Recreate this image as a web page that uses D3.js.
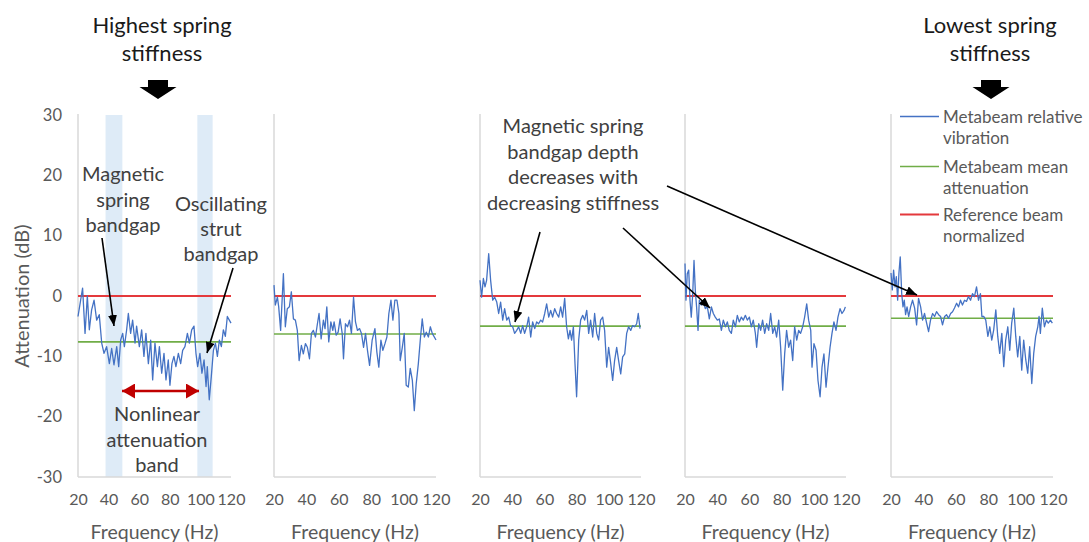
<!DOCTYPE html>
<html><head><meta charset="utf-8">
<script src="https://cdn.jsdelivr.net/npm/d3@7"></script>
<style>body{margin:0;background:#fff}svg{display:block;font-family:Lato,"Open Sans",sans-serif}</style>
</head><body><svg id="c" width="1089" height="542"></svg>
<script>
// ---------- data ----------
const freqTicks = [20, 40, 60, 80, 100, 120];
const attTicks = [30, 20, 10, 0, -10, -20, -30];
const meanAtt = [-7.6, -6.3, -5.0, -5.0, -3.7];
const refLevel = 0;
const bandgaps = [[38, 49], [98, 108]];
const legendLabels = [["Metabeam relative", "vibration"], ["Metabeam mean", "attenuation"], ["Reference beam", "normalized"]];

const f1 = [20,23,24.6,26.1,27.4,28.9,30.5,32.2,33.9,35.5,37,38.7,40.5,42,43.5,45.3,46.6,47.9,49.2,50.3,51.8,52.9,54.4,55.7,57.3,58.3,60.1,61.6,63.1,64.4,66,67.5,68.8,70.3,71.9,73.2,74.7,76.2,77.5,79,80.1,81.4,82.7,84,85.6,87.1,88.4,89.9,91.5,92.8,94.3,95.8,97.1,98.2,99.7,101,102.4,103.7,104.5,105.8,107.1,108.5,109.8,111.1,112.4,113.7,115,116.3,117.6,118.9,120];
const a1 = [-3.4,1.3,-6.2,0,-5.6,-2.3,-0.7,-4,-3.1,-7.8,-9.5,-8.4,-11.2,-8.7,-11.4,-8.4,-11.7,-7.3,-6.2,-8.4,-5.6,-2.9,-6.2,-4,-7.8,-5,-8.4,-5.6,-10,-6.2,-11.2,-7.3,-13.9,-7.8,-11.7,-8.4,-12.8,-9.5,-13.9,-10.6,-14.8,-11.2,-10,-11.7,-9.5,-11.2,-9,-8.4,-6.2,-7.8,-5.6,-5,-9.5,-11.7,-9.5,-12.8,-10.6,-15,-11.7,-17.2,-13.4,-9,-7.8,-10,-7.3,-8.4,-5.6,-6.7,-3.4,-4,-4.5];

const f2 = [20,20.8,22.1,22.9,24.1,25.8,27,28.2,29.5,30.7,32,33.2,34.4,35.5,36.9,38.1,39.4,40.6,41.9,43.1,44.3,45.6,46.8,47.8,49.1,50.5,51.5,52.6,53.8,55.1,56.3,57.1,58.4,59.6,60.8,62.1,62.9,64.1,65.4,66.6,67.8,69.1,70.3,71.5,72.8,74,75.3,76.5,77.7,79,80.6,82.3,83.5,84.7,86,87.2,88.5,89.7,90.9,92.2,93.4,94.6,95.9,97.1,97.9,99.2,100.4,101.6,102.9,104.1,105.4,106.6,107.8,109.1,110.3,111.5,112.8,114,115.3,116.5,117.7,120];
const a2 = [1.8,-1.5,-0.2,-1.8,-5.7,3.7,-5.1,-2.1,-1.8,0.7,-3.8,-4,-5.7,-10.7,-8.2,-9.6,-7.9,-8.5,-10.4,-6.2,-5.7,-6.8,-4.6,-2.9,-7.1,-4,-5.4,-1.8,-7.6,-4.3,-5.7,-4.3,-6.5,-6,-3.8,-6.2,-10.4,-4.6,-5.1,-4,-6.2,-0.2,-4.3,-5.7,-5.4,-6.2,-8.5,-6.2,-9,-11.5,-7.3,-5.4,-9.3,-11.8,-7.3,-9,-7.9,-6.8,-2.9,-0.7,-4,-0.7,-0.7,-2.9,-10.7,-8.5,-6.2,-14.8,-15.1,-12,-14,-19,-14.5,-11.2,-7.3,-3.8,-6.8,-6,-6.8,-5.1,-6.2,-7.3];

const f3 = [20,21,22.1,23.1,24.1,25.4,26.6,27.9,29.1,30.4,31.6,32.8,34.1,35.3,36.6,37.8,39,40.3,41.5,42.8,44,45.3,46.5,47.7,49,50.2,51.5,52.7,54,55.2,56.4,57.7,58.9,60.2,61.4,62.7,63.9,65.1,66.4,67.6,68.9,70.1,71.3,72.6,73.8,74.9,75.9,76.9,78,79,80,81.3,82.5,83.8,85,86.3,87.5,88.7,90,91.2,92.5,93.7,94.9,96.2,97.4,98.7,99.9,101.2,102.4,103.6,104.9,106.1,107.4,108.6,109.9,111.1,112.3,113.6,114.8,116.1,117.3,118.3,119.4];
const a3 = [2.6,-0.2,2.9,1.5,2.6,7,2.6,-0.7,-0.2,-1,-2.9,-1,-4,-2.1,-4,-3.5,-4.9,-5.1,-6.2,-5.7,-5.1,-6.2,-4.9,-6.2,-5.1,-3.5,-6.8,-4.3,-5.4,-4.3,-4.6,-4,-4.3,-2.9,-1.3,-3.5,-2.4,-3.5,-2.1,-2.9,-3.5,-1.8,-3.5,-0.4,-5.1,-7.1,-5.7,-7.3,-5.1,-11.2,-16.7,-7.3,-4,-3.2,-4,-2.4,-6.2,-4,-6.8,-2.9,-6.2,-7.3,-4,-3.5,-5.7,-11.8,-8.5,-11.2,-14,-10.7,-8.5,-10.7,-12.9,-10.1,-9.6,-6.2,-5.1,-5.7,-4.9,-5.1,-4.6,-2.9,-5.4];

const f4 = [20,20.6,21.4,22.3,23.1,23.9,24.8,25.6,26.4,27.2,28.1,28.9,30.1,31.4,32.6,33.9,35.1,36.4,37.6,38.8,40.1,41.3,42.6,43.8,45.1,46.3,47.5,48.8,50,51.3,52.5,53.7,55,56.2,57.5,58.7,60,61.2,62.4,63.7,64.5,65.8,67,68.2,69.5,70.7,72,73.2,74.5,75.7,76.9,78.2,79.4,80.7,81.9,83.1,84.4,85.6,86.9,88.1,89.4,90.6,91.8,93.1,94.3,95.6,96.8,98.1,98.9,100.1,101.4,102.6,103.9,105.1,106.3,107.6,108.8,110.1,111.3,112.5,113.8,115,116.3,117.5,118.8,119.6];
const a4 = [5.4,-0.7,3.7,4.3,-0.7,-3.5,0.4,5.9,0.9,-1.8,-5.7,-0.7,-1.5,-1,-2.1,-1.8,-3.8,-1.8,-2.9,-3.5,-4,-3.8,-5.7,-4,-5.1,-4.3,-5.7,-6.2,-4,-5.1,-3.2,-4.3,-3.5,-4,-3.2,-4,-3.5,-5.1,-4,-6.2,-8.5,-4.6,-5.7,-4,-6.2,-4.6,-5.7,-2.9,-6.2,-5.1,-6.8,-4,-8.5,-15.6,-9.6,-5.7,-8.5,-7.3,-10.7,-5.1,-7.3,-5.7,-6.2,-5.1,-3.5,-1.3,-4,-5.7,-11.8,-7.9,-9,-14,-16.7,-11.8,-9.6,-15.1,-11.8,-8.5,-6.2,-4.3,-5.7,-3.5,-2.1,-2.9,-2.4,-1.8];

const f5 = [20,20.8,21.6,22.5,23.3,24.1,24.9,25.7,26.6,27.4,28.2,29,29.9,30.9,32.1,33.3,34.6,35.8,37,38.3,39.5,40.7,42,43.2,44.4,45.7,46.9,48.1,49.4,50.6,51.8,53.1,54.3,55.5,56.8,58,59.2,60.5,61.7,62.9,64.1,65.4,66.6,67.8,69.1,70.3,71.5,72.8,74,75.2,76.1,77.3,78.5,79.8,81,82.2,83.4,84.7,85.9,87.1,88.4,89.6,90.8,92.1,93.3,94.5,95.8,97,98.2,99.5,100.7,101.9,103.2,104.4,105.6,106.9,108.1,109.3,110.6,111.4,112.2,113.4,114.7,115.9,117.1,118.4,119.6];
const a5 = [3.8,1,4.3,1.5,3.2,-0.7,3.8,6.5,0.4,-1.8,-0.7,-3.1,-1.8,-3.4,-1.8,-0.7,-2,-4.8,-0.4,-1.8,-4,-2.9,-4.5,-5.9,-4,-2.9,-3.4,-2.6,-3.1,-3.4,-4.8,-3.4,-3.1,-3.7,-2.9,-2.6,-2,-1.2,-1.8,-0.7,-1.5,-0.7,-0.9,-0.1,-0.7,0.4,-0.1,1.5,-0.7,0.4,-3.4,-3.4,-4,-6.7,-5.1,-7.3,-5.6,-2.3,-6.7,-9.5,-6.2,-11.7,-7.3,-5.1,-9,-4.5,-2,-6.7,-10.1,-6.7,-12.3,-7.3,-10.6,-12.8,-8.4,-14.5,-9.5,-6.7,-5.1,-3.4,-6.2,-2,-5.1,-4,-4.5,-4,-4.5];

const series = [[f1, a1], [f2, a2], [f3, a3], [f4, a4], [f5, a5]];

// ---------- layout ----------
const svg = d3.select("#c");
const W = 1089, H = 542;
svg.append("rect").attr("width", W).attr("height", H).attr("fill", "#fff");
const panelX = [[78, 231], [274, 436], [480, 641], [685, 846], [891, 1053]];
const yTop = 115, yBot = 477;
const y = d3.scaleLinear().domain([-30, 30]).range([yBot, yTop]);
const C = {blue: "#4472c4", green: "#70ad47", red: "#e4393c", axis: "#d9d9d9", tick: "#595959", text: "#404040", band: "#deebf7"};

const defs = svg.append("defs");
defs.append("marker").attr("id", "ah").attr("viewBox", "0 0 11 9").attr("refX", 11).attr("refY", 4.5)
  .attr("markerWidth", 11).attr("markerHeight", 9).attr("markerUnits", "userSpaceOnUse").attr("orient", "auto")
  .append("path").attr("d", "M0,0 L11,4.5 L0,9 Z").attr("fill", "#000");
defs.append("marker").attr("id", "rh").attr("viewBox", "0 0 13 15").attr("refX", 13).attr("refY", 7.5)
  .attr("markerWidth", 13).attr("markerHeight", 15).attr("markerUnits", "userSpaceOnUse").attr("orient", "auto-start-reverse")
  .append("path").attr("d", "M0,0 L13,7.5 L0,15 Z").attr("fill", "#c00000");

const plainNum = d => String(d);

series.forEach(([fr, at], i) => {
  const x = d3.scaleLinear().domain([20, 120]).range(panelX[i]);
  const g = svg.append("g");
  if (i === 0) {
    g.selectAll("rect.band").data(bandgaps).join("rect")
      .attr("x", d => x(d[0])).attr("width", d => x(d[1]) - x(d[0]))
      .attr("y", yTop).attr("height", yBot - yTop).attr("fill", C.band);
  }
  // axis lines
  g.append("line").attr("x1", x(20)).attr("x2", x(20)).attr("y1", yTop - 1).attr("y2", yBot).attr("stroke", C.axis).attr("stroke-width", 1.5);
  g.append("line").attr("x1", x(20)).attr("x2", x(120)).attr("y1", yBot).attr("y2", yBot).attr("stroke", C.axis).attr("stroke-width", 1.5);
  // x axis labels
  const xa = g.append("g").attr("transform", `translate(0,${yBot})`)
    .call(d3.axisBottom(x).tickValues(freqTicks).tickFormat(plainNum).tickSize(0).tickPadding(17));
  xa.select(".domain").remove();
  xa.selectAll("text").attr("font-size", 16).attr("fill", C.tick).attr("font-family", "Lato");
  g.append("text").attr("x", (x(20) + x(120)) / 2).attr("y", 539).attr("text-anchor", "middle")
    .attr("font-size", 19.5).attr("fill", C.tick).text("Frequency (Hz)");
  if (i === 0) {
    const ya = g.append("g").attr("transform", `translate(${x(20)},0)`)
      .call(d3.axisLeft(y).tickValues(attTicks).tickFormat(plainNum).tickSize(0).tickPadding(16));
    ya.select(".domain").remove();
    ya.selectAll("text").attr("font-size", 16.5).attr("fill", C.tick).attr("font-family", "Lato");
    g.append("text").attr("transform", `translate(29,${y(0)}) rotate(-90)`).attr("text-anchor", "middle")
      .attr("font-size", 20).attr("fill", C.tick).text("Attenuation (dB)");
  }
  // lines
  g.append("line").attr("x1", x(20)).attr("x2", x(120)).attr("y1", y(meanAtt[i])).attr("y2", y(meanAtt[i]))
    .attr("stroke", C.green).attr("stroke-width", 1.6);
  g.append("line").attr("x1", x(20)).attr("x2", x(120)).attr("y1", y(refLevel)).attr("y2", y(refLevel))
    .attr("stroke", C.red).attr("stroke-width", 2);
  const pts = fr.map((f, k) => [f, at[k]]);
  g.append("path").datum(pts).attr("fill", "none").attr("stroke", C.blue).attr("stroke-width", 1.3)
    .attr("stroke-linejoin", "round")
    .attr("d", d3.line().x(d => x(d[0])).y(d => y(d[1])));
});

// legend (inside last panel)
const lgColors = [C.blue, C.green, C.red];
const lgY = [123, 173, 221];
legendLabels.forEach((lines, k) => {
  svg.append("line").attr("x1", 900).attr("x2", 939).attr("y1", lgY[k] - 6.5).attr("y2", lgY[k] - 6.5)
    .attr("stroke", lgColors[k]).attr("stroke-width", k === 0 ? 1.3 : (k === 1 ? 1.6 : 2));
  lines.forEach((t, j) => svg.append("text").attr("x", 943).attr("y", lgY[k] + j * 20.5)
    .attr("font-size", 17).attr("fill", C.tick).text(t));
});

// titles
function multi(lines, cx, y0, dy, size, color) {
  lines.forEach((t, j) => svg.append("text").attr("x", cx).attr("y", y0 + j * dy).attr("text-anchor", "middle")
    .attr("font-size", size).attr("fill", color).text(t));
}
multi(["Highest spring", "stiffness"], 162, 33, 28, 22, "#1a1a1a");
multi(["Lowest spring", "stiffness"], 990, 33, 28, 22, "#1a1a1a");
function block(cx) {
  const p = [[cx-10,80],[cx+10,80],[cx+10,87],[cx+18.5,87],[cx,99],[cx-18.5,87],[cx-10,87]];
  svg.append("polygon").attr("points", p.map(d => d.join(",")).join(" ")).attr("fill", "#000");
}
block(158); block(991);

// annotations
multi(["Magnetic", "spring", "bandgap"], 123, 181, 25.5, 20, C.text);
multi(["Oscillating", "strut", "bandgap"], 221, 211, 25, 20, C.text);
multi(["Nonlinear", "attenuation", "band"], 157, 421, 25.5, 20, C.text);
multi(["Magnetic spring", "bandgap depth", "decreases with", "decreasing stiffness"], 573, 133, 25.6, 20, C.text);

const arrows = [[102,238,114,326],[233,268,207,353],[540,232,515,322],[623,228,710,308],[667,186,917,295]];
arrows.forEach(a => svg.append("line").attr("x1", a[0]).attr("y1", a[1]).attr("x2", a[2]).attr("y2", a[3])
  .attr("stroke", "#000").attr("stroke-width", 1.6).attr("marker-end", "url(#ah)"));
svg.append("line").attr("x1", 122).attr("x2", 199).attr("y1", 391).attr("y2", 391)
  .attr("stroke", "#c00000").attr("stroke-width", 2.7)
  .attr("marker-start", "url(#rh)").attr("marker-end", "url(#rh)");
</script></body></html>
